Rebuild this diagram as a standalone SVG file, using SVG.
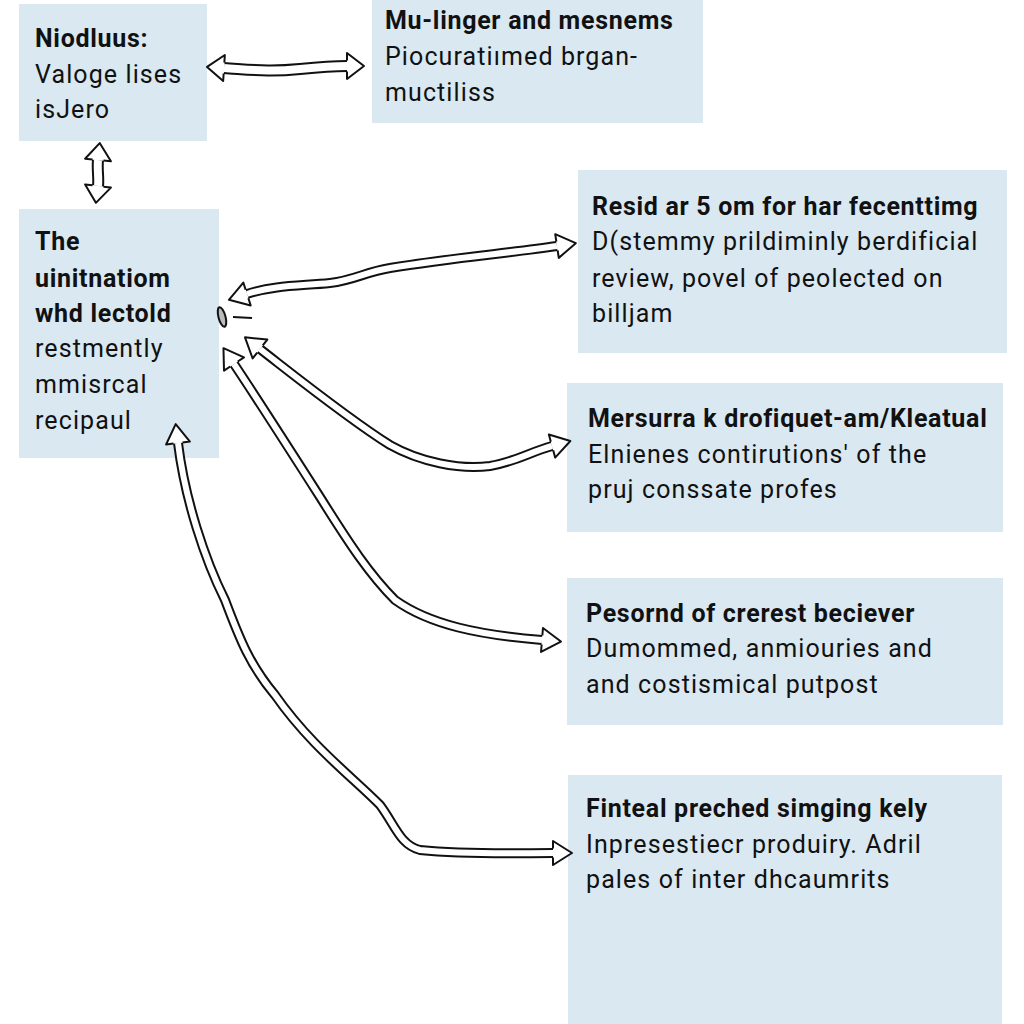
<svg xmlns="http://www.w3.org/2000/svg" width="1024" height="1024" viewBox="0 0 1024 1024">
<defs>
<style>
.box{fill:#d9e8f1}
.t{font-family:Roboto,"Liberation Sans",sans-serif;font-size:25px;fill:#111;letter-spacing:1.1px}
.b{font-weight:bold;letter-spacing:0.7px}
.outer{fill:none;stroke:#111;stroke-width:10;stroke-linecap:butt;stroke-linejoin:round}
.inner{fill:none;stroke:#fff;stroke-width:6;stroke-linecap:butt;stroke-linejoin:round}
.outerW{fill:none;stroke:#111;stroke-width:12;stroke-linejoin:round}
.innerW{fill:none;stroke:#fff;stroke-width:8;stroke-linejoin:round}
</style>
<marker id="h" markerUnits="userSpaceOnUse" orient="auto-start-reverse" refX="0" refY="0" markerWidth="40" markerHeight="40" viewBox="-5 -20 40 40" overflow="visible">
<path d="M0,-4.5 L0,-12 L19,0 L0,12 L0,4.5" fill="#fff" stroke="#111" stroke-width="2" stroke-linejoin="round"/>
</marker>
<marker id="hb" markerUnits="userSpaceOnUse" orient="auto-start-reverse" refX="0" refY="0" markerWidth="40" markerHeight="40" viewBox="-5 -20 40 40" overflow="visible">
<path d="M0,-5.5 L0,-13 L17,0 L0,13 L0,5.5" fill="#fff" stroke="#111" stroke-width="2" stroke-linejoin="round"/>
</marker>
</defs>
<rect width="1024" height="1024" fill="#fff"/>

<g id="node1">
<rect class="box" x="19" y="4" width="188" height="137"/>
<text class="t b" x="35" y="47">Niodluus:</text>
<text class="t" x="35" y="83">Valoge lises</text>
<text class="t" x="35" y="118">isJero</text>
</g>
<g id="node2">
<rect class="box" x="372" y="0" width="331" height="123"/>
<text class="t b" x="385" y="29">Mu-linger and mesnems</text>
<text class="t" x="385" y="65">Piocurati&#305;med brgan-</text>
<text class="t" x="385" y="101">muctiliss</text>
</g>
<g id="node3">
<rect class="box" x="19" y="209" width="200" height="249"/>
<text class="t b" x="35" y="250">The</text>
<text class="t b" x="35" y="287">uinitnatiom</text>
<text class="t b" x="35" y="322">whd lectold</text>
<text class="t" x="35" y="357">restmently</text>
<text class="t" x="35" y="393">mmisrcal</text>
<text class="t" x="35" y="429">recipaul</text>
</g>
<g id="node4">
<rect class="box" x="578" y="170" width="429" height="183"/>
<text class="t b" x="592" y="215">Resid ar 5 om for har fecenttimg</text>
<text class="t" x="592" y="250">D(stemmy prildiminly berdificial</text>
<text class="t" x="592" y="287">review, povel of peolected on</text>
<text class="t" x="592" y="322">billjam</text>
</g>
<g id="node5">
<rect class="box" x="567" y="383" width="436" height="149"/>
<text class="t b" x="588" y="427">Mersurra k drofiquet-am/Kleatual</text>
<text class="t" x="588" y="463">Elnienes contirutions' of the</text>
<text class="t" x="588" y="498">pruj conssate profes</text>
</g>
<g id="node6">
<rect class="box" x="567" y="578" width="436" height="147"/>
<text class="t b" x="586" y="622">Pesornd of crerest beciever</text>
<text class="t" x="586" y="657">Dumommed, anmiouries and</text>
<text class="t" x="586" y="693">and costismical putpost</text>
</g>
<g id="node7">
<rect class="box" x="568" y="775" width="434" height="249"/>
<text class="t b" x="586" y="817">Finteal preched simging kely</text>
<text class="t" x="586" y="853">Inpresestiecr produiry. Adril</text>
<text class="t" x="586" y="888">pales of inter dhcaumrits</text>
</g>

<g id="connectors">
<path class="outerW" d="M224,68 C255,70 270,72 300,69 C320,67 332,66 347,66"/>
<path class="innerW" d="M224,68 C255,70 270,72 300,69 C320,67 332,66 347,66" marker-start="url(#hb)" marker-end="url(#hb)"/>

<path class="outerW" d="M98,160 C97,170 99,178 98,186"/>
<path class="innerW" d="M98,160 C97,170 99,178 98,186" marker-start="url(#hb)" marker-end="url(#hb)"/>

<path class="outer" d="M247,294 C275,285 300,286 330,283 C355,280 365,272 390,268 C450,258 510,253 557,246"/>
<path class="inner" d="M247,294 C275,285 300,286 330,283 C355,280 365,272 390,268 C450,258 510,253 557,246" marker-start="url(#h)" marker-end="url(#h)"/>

<path class="outer" d="M260,349 C300,380 350,420 390,445 C420,462 460,470 490,466 C515,462 530,452 552,446"/>
<path class="inner" d="M260,349 C300,380 350,420 390,445 C420,462 460,470 490,466 C515,462 530,452 552,446" marker-start="url(#h)" marker-end="url(#h)"/>

<path class="outer" d="M234,364 C258,400 290,450 320,497 C350,545 370,575 395,600 C430,625 480,635 542,640"/>
<path class="inner" d="M234,364 C258,400 290,450 320,497 C350,545 370,575 395,600 C430,625 480,635 542,640" marker-start="url(#h)" marker-end="url(#h)"/>

<path class="outer" d="M178,443 C185,500 205,560 225,600 C240,640 250,665 275,695 C310,745 350,775 380,805 C395,825 400,845 420,850 C470,855 520,853 553,853"/>
<path class="inner" d="M178,443 C185,500 205,560 225,600 C240,640 250,665 275,695 C310,745 350,775 380,805 C395,825 400,845 420,850 C470,855 520,853 553,853" marker-start="url(#h)" marker-end="url(#h)"/>

<ellipse cx="222" cy="317" rx="3.5" ry="10" transform="rotate(-15 222 317)" fill="#bbb" stroke="#111" stroke-width="2"/>
<path d="M233,317 L252,318" stroke="#111" stroke-width="2" fill="none"/>
</g>
</svg>
